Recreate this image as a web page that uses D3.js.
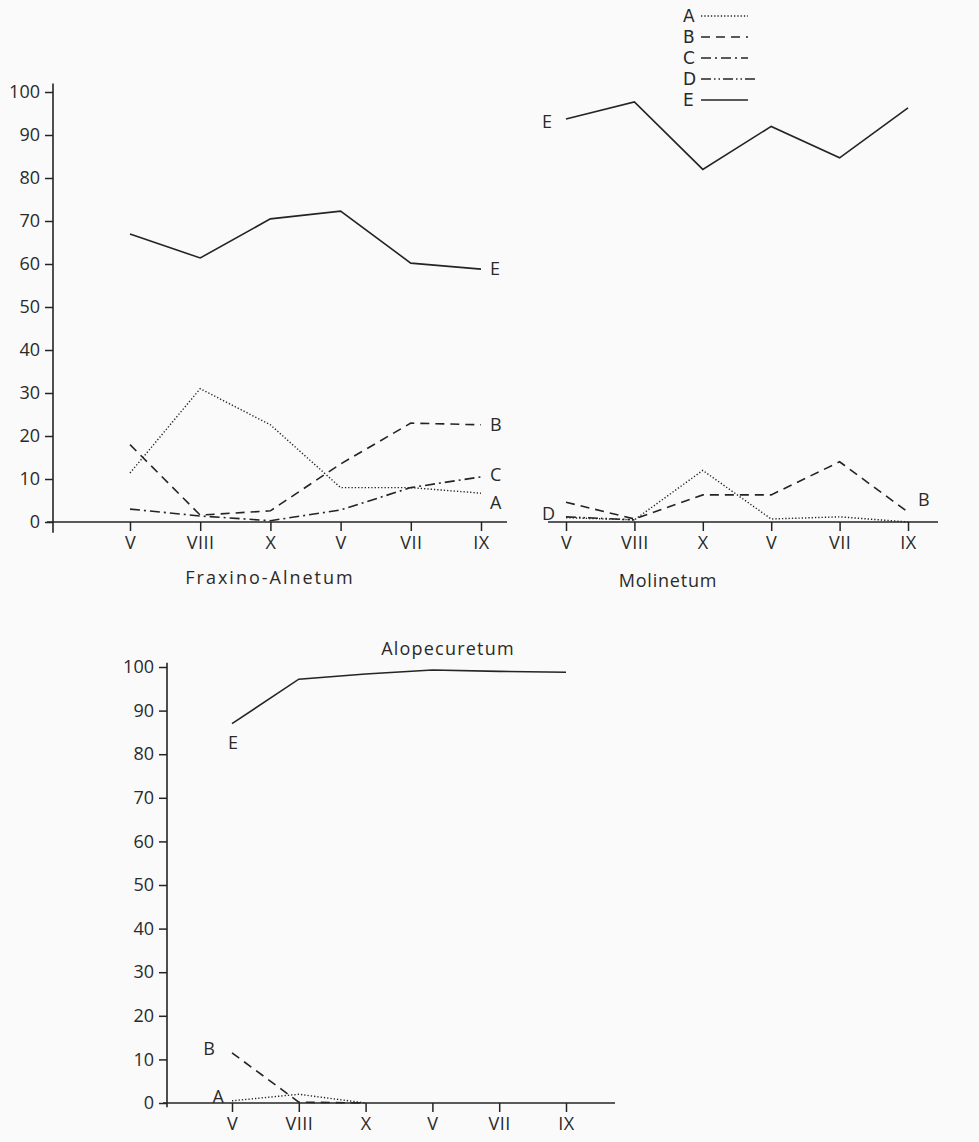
<!DOCTYPE html>
<html>
<head>
<meta charset="utf-8">
<script src="https://cdn.jsdelivr.net/npm/d3@7"></script>
<style>
  body { margin: 0; background: #fafafa; }
  svg { display: block; }
  text { font-family: "Open Sans", sans-serif; fill: #2a2a2a; }
</style>
</head>
<body>
<svg id="chart" width="979" height="1142"></svg>
<script>
// sampling months (two seasons), same for the three plant communities
const months = ["V", "VIII", "X", "V", "VII", "IX"];
const yTicks = [0, 10, 20, 30, 40, 50, 60, 70, 80, 90, 100];
const legendNames = ["A", "B", "C", "D", "E"];

// Fraxino-Alnetum
const fraxA = [11.4, 31, 22.6, 8, 8, 6.7];
const fraxB = [18, 1.6, 2.6, 13.5, 23, 22.6];
const fraxC = [3, 1.4, 0.3, 2.8, 8, 10.5];
const fraxE = [67, 61.4, 70.5, 72.3, 60.2, 58.8];

// Molinetum
const molA = [1, 0.5, 12, 0.7, 1.2, 0];
const molB = [4.6, 0.7, 6.3, 6.3, 14, 2.3];
const molD = [1.2, 0.5];
const molE = [93.7, 97.7, 82, 92, 84.7, 96.3];

// Alopecuretum
const alopA = [0.5, 2, 0];
const alopB = [11.5, 0.2, 0];
const alopE = [87, 97.2, 98.4, 99.3, 99, 98.8];

const dash = { A: "1.3,2", B: "9,6", C: "10,4,2,4", D: "10,3,1.5,3,1.5,3", E: null };
const ink = "#242424";

const svg = d3.select("#chart");

function panel(opt) {
  const g = svg.append("g");
  const x = d3.scalePoint().domain(d3.range(months.length)).range(opt.xRange);
  const y = opt.y;

  // baseline + month ticks
  g.append("line").attr("x1", opt.base[0]).attr("x2", opt.base[1])
    .attr("y1", y(0)).attr("y2", y(0)).attr("stroke", ink).attr("stroke-width", 1.6);
  const ax = g.append("g").attr("transform", `translate(0,${y(0)})`)
    .call(d3.axisBottom(x).tickSize(9).tickPadding(5).tickFormat((i) => months[i]));
  ax.select(".domain").remove();
  ax.selectAll("line").attr("stroke", ink).attr("stroke-width", 1.5);
  ax.selectAll("text").style("font-size", "18px").style("letter-spacing", "0.5px").attr("fill", ink);

  if (opt.title) {
    g.append("text").attr("x", opt.title.x).attr("y", opt.title.y)
      .attr("text-anchor", "middle").style("font-size", "18px")
      .style("letter-spacing", opt.title.ls + "px").text(opt.title.text);
  }

  const line = d3.line().x((d, i) => x(i)).y((d) => y(d));
  opt.series.forEach((s) => {
    g.append("path").datum(s.values).attr("d", line)
      .attr("fill", "none").attr("stroke", ink)
      .attr("stroke-width", s.name === "A" ? 1.4 : 1.6)
      .attr("stroke-dasharray", dash[s.name]);
    if (s.label) {
      const i = s.label.at === "end" ? s.values.length - 1 : 0;
      g.append("text")
        .attr("x", x(i) + s.label.dx).attr("y", y(s.values[i]) + s.label.dy)
        .attr("dy", "0.35em").attr("text-anchor", s.label.anchor || "start")
        .style("font-size", "18px").text(s.name);
    }
  });
  return { x, y };
}

function yAxis(y, ax, top, bottom) {
  const g = svg.append("g").attr("transform", `translate(${ax},0)`)
    .call(d3.axisLeft(y).tickValues(yTicks).tickSize(8).tickPadding(5));
  g.select(".domain").remove();
  g.selectAll("line").attr("stroke", ink).attr("stroke-width", 1.5);
  g.selectAll("text").style("font-size", "18px").attr("fill", ink);
  svg.append("line").attr("x1", ax).attr("x2", ax)
    .attr("y1", y(top)).attr("y2", y(bottom)).attr("stroke", ink).attr("stroke-width", 1.6);
}

// upper row: Fraxino-Alnetum and Molinetum share the y axis
const yTop = d3.scaleLinear().domain([0, 100]).range([522, 92]);
yAxis(yTop, 53, 102, -2.5);

panel({
  xRange: [130, 481], base: [47, 507], y: yTop,
  title: { text: "Fraxino-Alnetum", x: 270, y: 584, ls: 2 },
  series: [
    { name: "E", values: fraxE, label: { at: "end", dx: 9, dy: 0 } },
    { name: "A", values: fraxA, label: { at: "end", dx: 9, dy: 10 } },
    { name: "B", values: fraxB, label: { at: "end", dx: 9, dy: 0 } },
    { name: "C", values: fraxC, label: { at: "end", dx: 9, dy: -2 } },
  ],
});

panel({
  xRange: [566, 908], base: [548, 938], y: yTop,
  title: { text: "Molinetum", x: 668, y: 587, ls: 0.8 },
  series: [
    { name: "E", values: molE, label: { at: "start", dx: -14, dy: 3, anchor: "end" } },
    { name: "A", values: molA },
    { name: "B", values: molB, label: { at: "end", dx: 10, dy: -12 } },
    { name: "D", values: molD, label: { at: "start", dx: -11, dy: -3, anchor: "end" } },
  ],
});

// lower panel: Alopecuretum
const yBot = d3.scaleLinear().domain([0, 100]).range([1103, 667]);
yAxis(yBot, 167, 101, -1);

panel({
  xRange: [232, 566], base: [163, 615], y: yBot,
  title: { text: "Alopecuretum", x: 448, y: 655, ls: 1.2 },
  series: [
    { name: "E", values: alopE, label: { at: "start", dx: -4, dy: 19 } },
    { name: "A", values: alopA, label: { at: "start", dx: -8, dy: -4, anchor: "end" } },
    { name: "B", values: alopB, label: { at: "start", dx: -17, dy: -4, anchor: "end" } },
  ],
});

// legend (tighter font so the stacked letters keep clear of each other)
const leg = svg.append("g");
const ly = d3.scalePoint().domain(legendNames).range([16, 100]);
legendNames.forEach((n) => {
  leg.append("text").attr("x", 683).attr("y", ly(n)).attr("dy", "0.36em")
    .style("font-family", "'DejaVu Sans', sans-serif").style("font-size", "17px").text(n);
  leg.append("line").attr("x1", 701).attr("x2", n === "D" ? 755 : 748)
    .attr("y1", ly(n)).attr("y2", ly(n))
    .attr("stroke", ink).attr("stroke-width", n === "A" ? 1.3 : 1.5)
    .attr("stroke-dasharray", dash[n]);
});
</script>
</body>
</html>
